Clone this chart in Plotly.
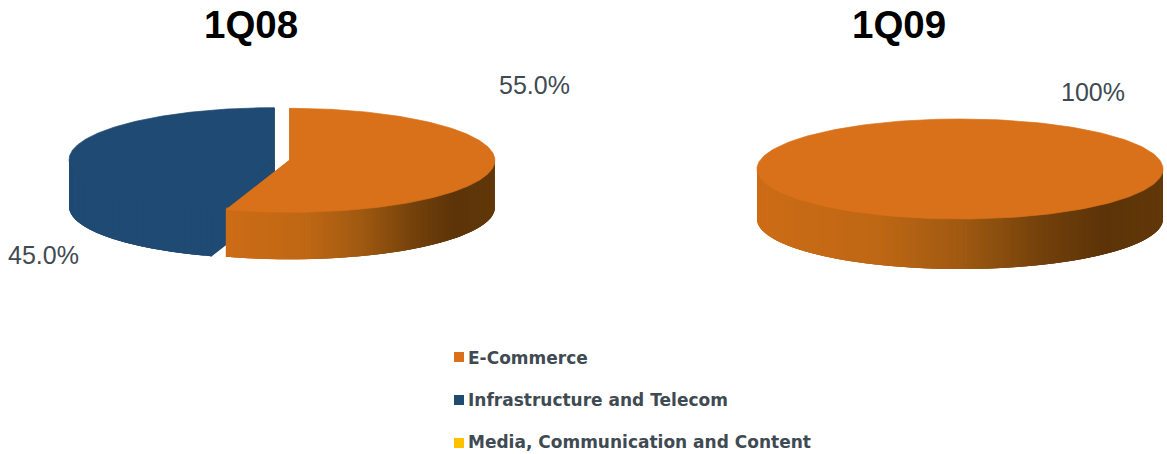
import math
import plotly.graph_objects as go

# Data
periods = ["1Q08", "1Q09"]
categories = ["E-Commerce", "Infrastructure and Telecom", "Media, Communication and Content"]
values_1q08 = [55.0, 45.0, 0.0]
values_1q09 = [100.0, 0.0, 0.0]
labels_1q08 = ["55.0%", "45.0%", ""]
labels_1q09 = ["100%", "", ""]

# Styling
TOP_COLORS = ["#D8711A", "#1F4A73", "#FFC000"]
SIDE_STOPS = [
    [(0.0, (205, 108, 22)), (0.3, (190, 103, 20)), (0.5, (160, 90, 17)),
     (0.7, (115, 65, 11)), (0.85, (92, 52, 8)), (1.0, (98, 56, 9))],
    [(0.0, (31, 74, 115)), (1.0, (31, 74, 115))],
    [(0.0, (255, 192, 0)), (1.0, (255, 192, 0))],
]
TEXT_COLOR = "#404A52"

# Canvas geometry, in pixels of the 1167x454 figure
PIES = [
    dict(values=values_1q08, cx=282, cy=160, rx=205, ry=52, depth=47, explode=8),
    dict(values=values_1q09, cx=960, cy=169, rx=203, ry=50, depth=50, explode=0),
]
TITLE_POS = [(250.5, 24), (899, 24)]
LABEL_POS = [[(534, 85), (43, 255)], [(1093, 92)]]
LEGEND_MARKER_X = 459
LEGEND_TEXT_X = 468
LEGEND_MARKER_Y = [357, 400, 443]
LEGEND_TEXT_Y = [360, 402, 444]


def side_color(stops, t):
    for (t0, c0), (t1, c1) in zip(stops, stops[1:]):
        if t <= t1:
            k = (t - t0) / (t1 - t0)
            return "rgb(%d,%d,%d)" % tuple(round(a + (b - a) * k) for a, b in zip(c0, c1))
    return "rgb(%d,%d,%d)" % stops[-1][1]


def rim(pie, cx, cy, angle):
    # Angles run clockwise from twelve o'clock.
    rad = math.radians(angle)
    return cx + pie["rx"] * math.sin(rad), cy - pie["ry"] * math.cos(rad)


def polygon(points, color, stroke=0.7):
    xs, ys = zip(*points)
    return go.Scatter(
        x=list(xs) + [xs[0]], y=list(ys) + [ys[0]], mode="lines", fill="toself",
        fillcolor=color, line=dict(color=color, width=stroke),
        hoverinfo="skip", showlegend=False,
    )


def slice_traces(pie, index, start, end):
    traces = []
    full = end - start >= 360
    mid = math.radians((start + end) / 2)
    off = 0 if full else pie["explode"]
    cx = pie["cx"] + off * math.sin(mid)
    cy = pie["cy"] - off * math.cos(mid) * pie["ry"] / pie["rx"]
    depth = pie["depth"]
    stops = SIDE_STOPS[index]

    # Cut faces of the wedge
    if not full:
        for angle in (start, end):
            x, y = rim(pie, cx, cy, angle)
            traces.append(polygon(
                [(cx, cy), (cx, cy + depth), (x, y + depth), (x, y)],
                "rgb(%d,%d,%d)" % stops[0][1], stroke=1.5))

    # Outer wall, only the arc that faces the viewer, shaded across the slice.
    # Strips overlap the next one and tuck under the top face to hide seams.
    lo, hi = max(start, 90), min(end, 270)
    if hi > lo:
        x_lo = rim(pie, cx, cy, hi)[0] if hi < 270 else cx - pie["rx"]
        x_hi = rim(pie, cx, cy, lo)[0] if lo > 90 else cx + pie["rx"]
        steps = int(hi - lo)
        for i in range(steps):
            a0 = lo + (hi - lo) * i / steps
            a1 = lo + (hi - lo) * (i + 1) / steps
            a2 = min(a1 + 2, hi)
            p0, p1, p2 = rim(pie, cx, cy, a0), rim(pie, cx, cy, a1), rim(pie, cx, cy, a2)
            t = ((p0[0] + p1[0]) / 2 - x_lo) / max(x_hi - x_lo, 1)
            traces.append(polygon(
                [(p0[0], p0[1] - 2), (p1[0], p1[1] - 2), (p2[0], p2[1] - 2),
                 (p2[0], p2[1] + depth), (p1[0], p1[1] + depth), (p0[0], p0[1] + depth)],
                side_color(stops, min(max(t, 0), 1)), stroke=0))

    # Top face
    arc = [rim(pie, cx, cy, start + (end - start) * i / 240) for i in range(241)]
    traces.append(polygon(arc if full else [(cx, cy)] + arc, TOP_COLORS[index]))
    return traces


fig = go.Figure()

for pie in PIES:
    total = sum(pie["values"])
    spans, angle = [], 0.0
    for i, value in enumerate(pie["values"]):
        sweep = 360 * value / total
        if value > 0:
            spans.append((i, angle, angle + sweep))
        angle += sweep
    # Later slices sit behind the first one, which is nearest the viewer.
    for i, start, end in reversed(spans):
        for trace in slice_traces(pie, i, start, end):
            fig.add_trace(trace)

# Legend entries
for color, name, my, ty in zip(TOP_COLORS, categories, LEGEND_MARKER_Y, LEGEND_TEXT_Y):
    fig.add_trace(go.Scatter(
        x=[LEGEND_MARKER_X], y=[my], mode="markers",
        marker=dict(symbol="square", size=10, color=color, line=dict(width=0)),
        hoverinfo="skip", showlegend=False,
    ))
    fig.add_trace(go.Scatter(
        x=[LEGEND_TEXT_X], y=[ty], mode="text", text=[name], textposition="middle right",
        textfont=dict(family="DejaVu Sans", size=17, color=TEXT_COLOR, weight=700),
        hoverinfo="skip", showlegend=False,
    ))

annotations = []
for text, (x, y) in zip(periods, TITLE_POS):
    annotations.append(dict(
        x=x, y=y, text=text, showarrow=False, xref="x", yref="y",
        font=dict(family="Liberation Sans", size=38.5, color="#000000", weight=700),
    ))
for labels, positions in zip([labels_1q08, labels_1q09], LABEL_POS):
    for text, (x, y) in zip([t for t in labels if t], positions):
        annotations.append(dict(
            x=x, y=y, text=text, showarrow=False, xref="x", yref="y",
            font=dict(family="Liberation Sans", size=25, color=TEXT_COLOR),
        ))

fig.update_layout(
    width=1167, height=454, margin=dict(l=0, r=0, t=0, b=0),
    paper_bgcolor="white", plot_bgcolor="white", showlegend=False,
    xaxis=dict(range=[0, 1167], visible=False, fixedrange=True),
    yaxis=dict(range=[454, 0], visible=False, fixedrange=True),
    annotations=annotations,
)

fig.write_html("out.html")
